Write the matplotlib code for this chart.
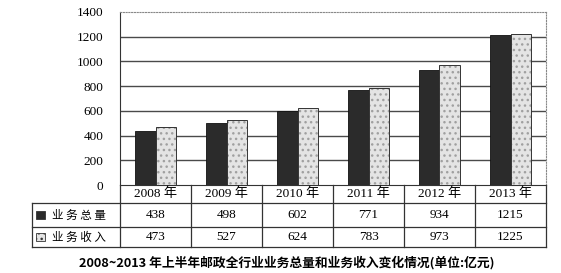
import matplotlib.pyplot as plt
import matplotlib.transforms as mtransforms
from matplotlib.patches import Rectangle
import numpy as np

plt.rcParams['font.family'] = ['Liberation Serif', 'Noto Sans CJK SC']

years = ['2008 年', '2009 年', '2010 年', '2011 年', '2012 年', '2013 年']
total_volume = [438, 498, 602, 771, 934, 1215]
total_revenue = [473, 527, 624, 783, 973, 1225]
series_names = ['业 务 总 量', '业 务 收 入']
title = '2008~2013 年上半年邮政全行业业务总量和业务收入变化情况(单位:亿元)'

fig = plt.figure(figsize=(5.61, 2.73), dpi=100)
ax = fig.add_axes([120 / 561, 1 - 185 / 273, 426 / 561, 173 / 273])

x = np.arange(len(years))
w = 0.29
dark = '#2b2b2b'
light = '#e4e4e4'
ax.bar(x - w / 2, total_volume, w, color=dark, edgecolor='#111111', linewidth=0.6, zorder=3)
# light bars: dotted fill, then outline
ax.bar(x + w / 2, total_revenue, w, color=light, edgecolor='#a0a0a0', linewidth=0,
       hatch='...', zorder=3)
ax.bar(x + w / 2, total_revenue, w, fill=False, edgecolor='#333333', linewidth=0.7, zorder=4)

ax.set_xlim(-0.5, len(years) - 0.5)
ax.set_ylim(0, 1400)
ax.set_yticks(range(0, 1401, 200))
ax.tick_params(axis='y', length=0, pad=12, labelsize=9.5)
ax.set_xticks([])
for yv in range(200, 1400, 200):
    ax.axhline(yv, color='#4a4a4a', linewidth=1.0, zorder=1)
ax.spines['left'].set_color('#333333')
ax.spines['bottom'].set_color('#333333')
for s in ['top', 'right']:
    ax.spines[s].set_linestyle((0, (1, 1.5)))
    ax.spines[s].set_color('#888888')
    ax.spines[s].set_linewidth(0.8)

# table under the chart
tr = mtransforms.blended_transform_factory(ax.transData, ax.transAxes)
def ay(py):
    return (185 - py) / 173

x_left = -0.5 + (32 - 120) / 71.0
x_right = len(years) - 0.5
lc = '#333333'
kw = dict(color=lc, linewidth=0.9, transform=tr, clip_on=False)
for py in [203, 227, 247]:
    ax.plot([x_left, x_right], [ay(py), ay(py)], **kw)
for i in range(len(years) + 1):
    xb = i - 0.5
    ax.plot([xb, xb], [ay(185), ay(247)], **kw)
ax.plot([x_left, x_left], [ay(203), ay(247)], **kw)

for i, yr in enumerate(years):
    ax.text(i, ay(194), yr, transform=tr, ha='center', va='center', fontsize=9.5, clip_on=False)
    ax.text(i, ay(215), str(total_volume[i]), transform=tr, ha='center', va='center',
            fontsize=9.5, clip_on=False)
    ax.text(i, ay(237), str(total_revenue[i]), transform=tr, ha='center', va='center',
            fontsize=9.5, clip_on=False)

sq = 8.5 / 71.0
for row, (py, fc, htch) in enumerate([(215, dark, None), (237, light, '...')]):
    x0 = -0.5 + (36 - 120) / 71.0
    ax.add_patch(Rectangle((x0, ay(py + 4.25)), sq, 8.5 / 173, transform=tr, clip_on=False,
                           facecolor=fc, edgecolor='#333333', linewidth=0.6, hatch=htch))
    ax.text(-0.5 + (52 - 120) / 71.0, ay(py), series_names[row], transform=tr, ha='left',
            va='center', fontsize=8.3, family=['Noto Sans CJK SC'], clip_on=False)

fig.text(287 / 561, 1 - 263 / 273, title, ha='center', va='center', fontsize=9.2,
         fontweight='bold', family=['Noto Sans CJK SC', 'DejaVu Sans'])

fig.savefig('out.png', dpi=100)
